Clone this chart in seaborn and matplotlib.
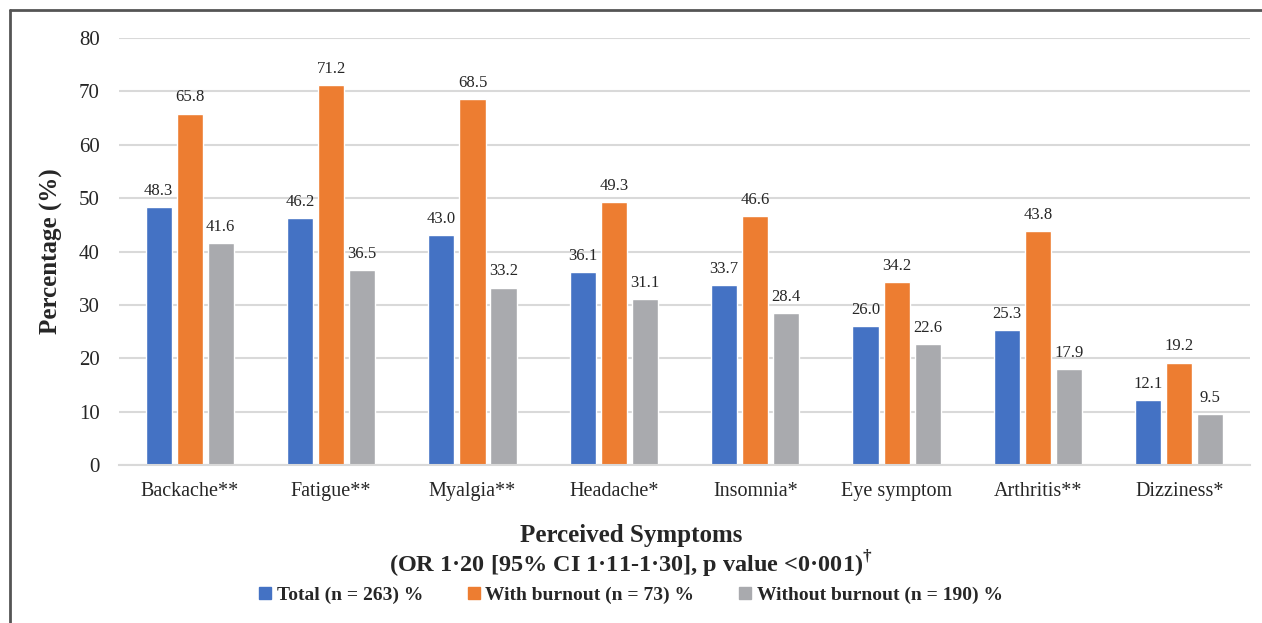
import pandas as pd
import seaborn as sns
import matplotlib.pyplot as plt
from matplotlib.lines import Line2D

symptoms = ['Backache**', 'Fatigue**', 'Myalgia**', 'Headache*', 'Insomnia*',
            'Eye symptom', 'Arthritis**', 'Dizziness*']
groups = ['Total (n = 263) %', 'With burnout (n = 73) %', 'Without burnout (n = 190) %']
total = [48.3, 46.2, 43.0, 36.1, 33.7, 26.0, 25.3, 12.1]
with_burnout = [65.8, 71.2, 68.5, 49.3, 46.6, 34.2, 43.8, 19.2]
without_burnout = [41.6, 36.5, 33.2, 31.1, 28.4, 22.6, 17.9, 9.5]
colors = ['#4472C4', '#ED7D31', '#A9AAAE']

# long format for seaborn
rows = []
for g, vals in zip(groups, [total, with_burnout, without_burnout]):
    for s, v in zip(symptoms, vals):
        rows.append({'Symptom': s, 'Group': g, 'Value': v})
df = pd.DataFrame(rows)

sns.set_theme(style='white')
plt.rcParams['font.family'] = ['Liberation Serif', 'DejaVu Serif']
plt.rcParams['mathtext.fontset'] = 'custom'
plt.rcParams['mathtext.rm'] = 'Liberation Serif:bold'

fig = plt.figure(figsize=(12.62, 6.23), dpi=100)
ax = fig.add_axes([0.0943, 0.2536, 0.8962, 0.6854])

sns.barplot(data=df, x='Symptom', y='Value', hue='Group', palette=colors,
            width=0.66, gap=0.16, ax=ax, legend=False, saturation=1)

for cont in ax.containers:
    ax.bar_label(cont, fmt='%.1f', padding=6, fontsize=12, color='#262626')

ax.set_ylim(0, 80)
ax.set_xlim(-0.5, 7.5)
ax.set_yticks(range(0, 81, 10))
ax.yaxis.grid(True, color='#D9D9D9', linewidth=1.5)
ax.set_axisbelow(True)
for side in ['top', 'right', 'left']:
    ax.spines[side].set_visible(False)
ax.spines['bottom'].set_color('#D9D9D9')
ax.spines['bottom'].set_linewidth(1.5)
ax.tick_params(axis='y', length=0, pad=14, labelsize=15, labelcolor='#262626')
ax.tick_params(axis='x', length=0, pad=12, labelsize=14.5, labelcolor='#262626')
ax.set_xlabel('')
ax.set_ylabel('Percentage (%)', fontsize=18, fontweight='bold', labelpad=11)

fig.text(0.5, 0.141, 'Perceived Symptoms', ha='center', va='center',
         fontsize=18, fontweight='bold')
fig.text(0.5, 0.095, '(OR 1·20 [95% CI 1·11-1·30], p value <0·001)$^{†}$',
         ha='center', va='center', fontsize=17.5, fontweight='bold')

handles = [Line2D([], [], marker='s', linestyle='none', markersize=9,
                  markerfacecolor=c, markeredgecolor=c) for c in colors]
fig.legend(handles, groups, loc='center', bbox_to_anchor=(0.5, 0.045), ncol=3,
           frameon=False, prop={'weight': 'bold', 'size': 14},
           handlelength=0.6, handletextpad=0.3, columnspacing=2.3)

# outer frame (left and top edges)
fig.add_artist(Line2D([10 / 1262, 10 / 1262], [0, 1 - 10 / 623],
                      transform=fig.transFigure, color='#555555', linewidth=2))
fig.add_artist(Line2D([10 / 1262, 1], [1 - 10 / 623, 1 - 10 / 623],
                      transform=fig.transFigure, color='#555555', linewidth=2))

plt.savefig('out.png', dpi=100)
